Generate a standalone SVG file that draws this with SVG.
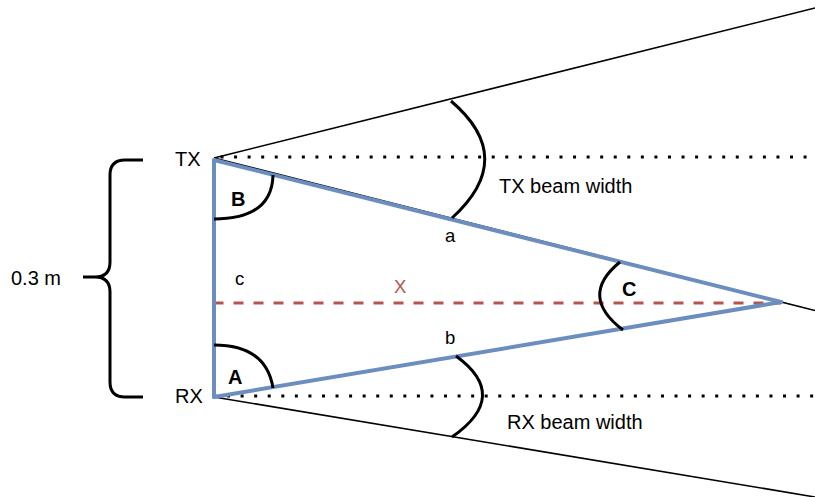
<svg xmlns="http://www.w3.org/2000/svg" width="815" height="497" viewBox="0 0 815 497">
<style>
text { font-family: "Liberation Sans", Arial, sans-serif; fill: #000; }
.lbl { font-size: 20px; }
.sm { font-size: 18.5px; }
.bold { font-size: 20px; font-weight: bold; }
.thin { stroke: #000; stroke-width: 1.6; fill: none; }
.dot { stroke: #000; stroke-width: 3; stroke-dasharray: 3 10.56; fill: none; }
.blue { stroke: #6c8ebf; stroke-width: 4; fill: none; stroke-linecap: round; }
.arc { stroke: #000; stroke-width: 3; fill: none; }
.red { stroke: #b85450; stroke-width: 3; stroke-dasharray: 10 10; fill: none; }
</style>
<rect width="815" height="497" fill="#fff"/>
<g id="connectors">
  <line class="thin" x1="214" y1="158" x2="815" y2="8"/>
  <line class="thin" x1="214" y1="397" x2="815" y2="497"/>
  <line class="thin" x1="214" y1="158" x2="815" y2="310.5"/>
  <line class="dot" x1="220.5" y1="157" x2="815" y2="157"/>
  <line class="dot" x1="213.5" y1="396" x2="815" y2="396"/>
  <line class="red" x1="213.5" y1="303" x2="781" y2="303"/>
  <line class="blue" x1="214" y1="160" x2="214" y2="397"/>
  <line class="blue" x1="214" y1="160" x2="781" y2="302"/>
  <line class="blue" x1="214" y1="397" x2="781" y2="302"/>
</g>
<g id="brace">
  <path class="arc" d="M 143 160 L 125 160 Q 110 160 110 175 L 110 262 Q 110 277 95 277 L 83 277 M 95 277 Q 110 277 110 292 L 110 382 Q 110 397 125 397 L 143 397"/>
  <text class="lbl" x="11" y="285">0.3 m</text>
</g>
<g id="tx">
  <text class="lbl" x="175" y="166">TX</text>
</g>
<g id="rx">
  <text class="lbl" x="175" y="403">RX</text>
</g>
<g id="angle-B">
  <path class="arc" d="M 273 175 Q 272 219 214 219"/>
  <text class="bold" x="231" y="206">B</text>
</g>
<g id="angle-A">
  <path class="arc" d="M 214 345 Q 266 345 273 388"/>
  <text class="bold" x="228" y="384">A</text>
</g>
<g id="angle-C">
  <path class="arc" d="M 620 262 Q 578 296 623 330"/>
  <text class="bold" x="622" y="296">C</text>
</g>
<g id="tx-beam">
  <path class="arc" d="M 451 101 Q 518 158 452 218"/>
  <text class="lbl" x="499" y="193">TX beam width</text>
</g>
<g id="rx-beam">
  <path class="arc" d="M 456 356 Q 511 396 452 437"/>
  <text class="lbl" x="507" y="429">RX beam width</text>
</g>
<g id="sides">
  <text class="sm" x="445" y="242">a</text>
  <text class="sm" x="445" y="344">b</text>
  <text class="sm" x="235" y="285">c</text>
  <text class="sm" x="394" y="293" style="fill:#b85450">X</text>
</g>
</svg>
